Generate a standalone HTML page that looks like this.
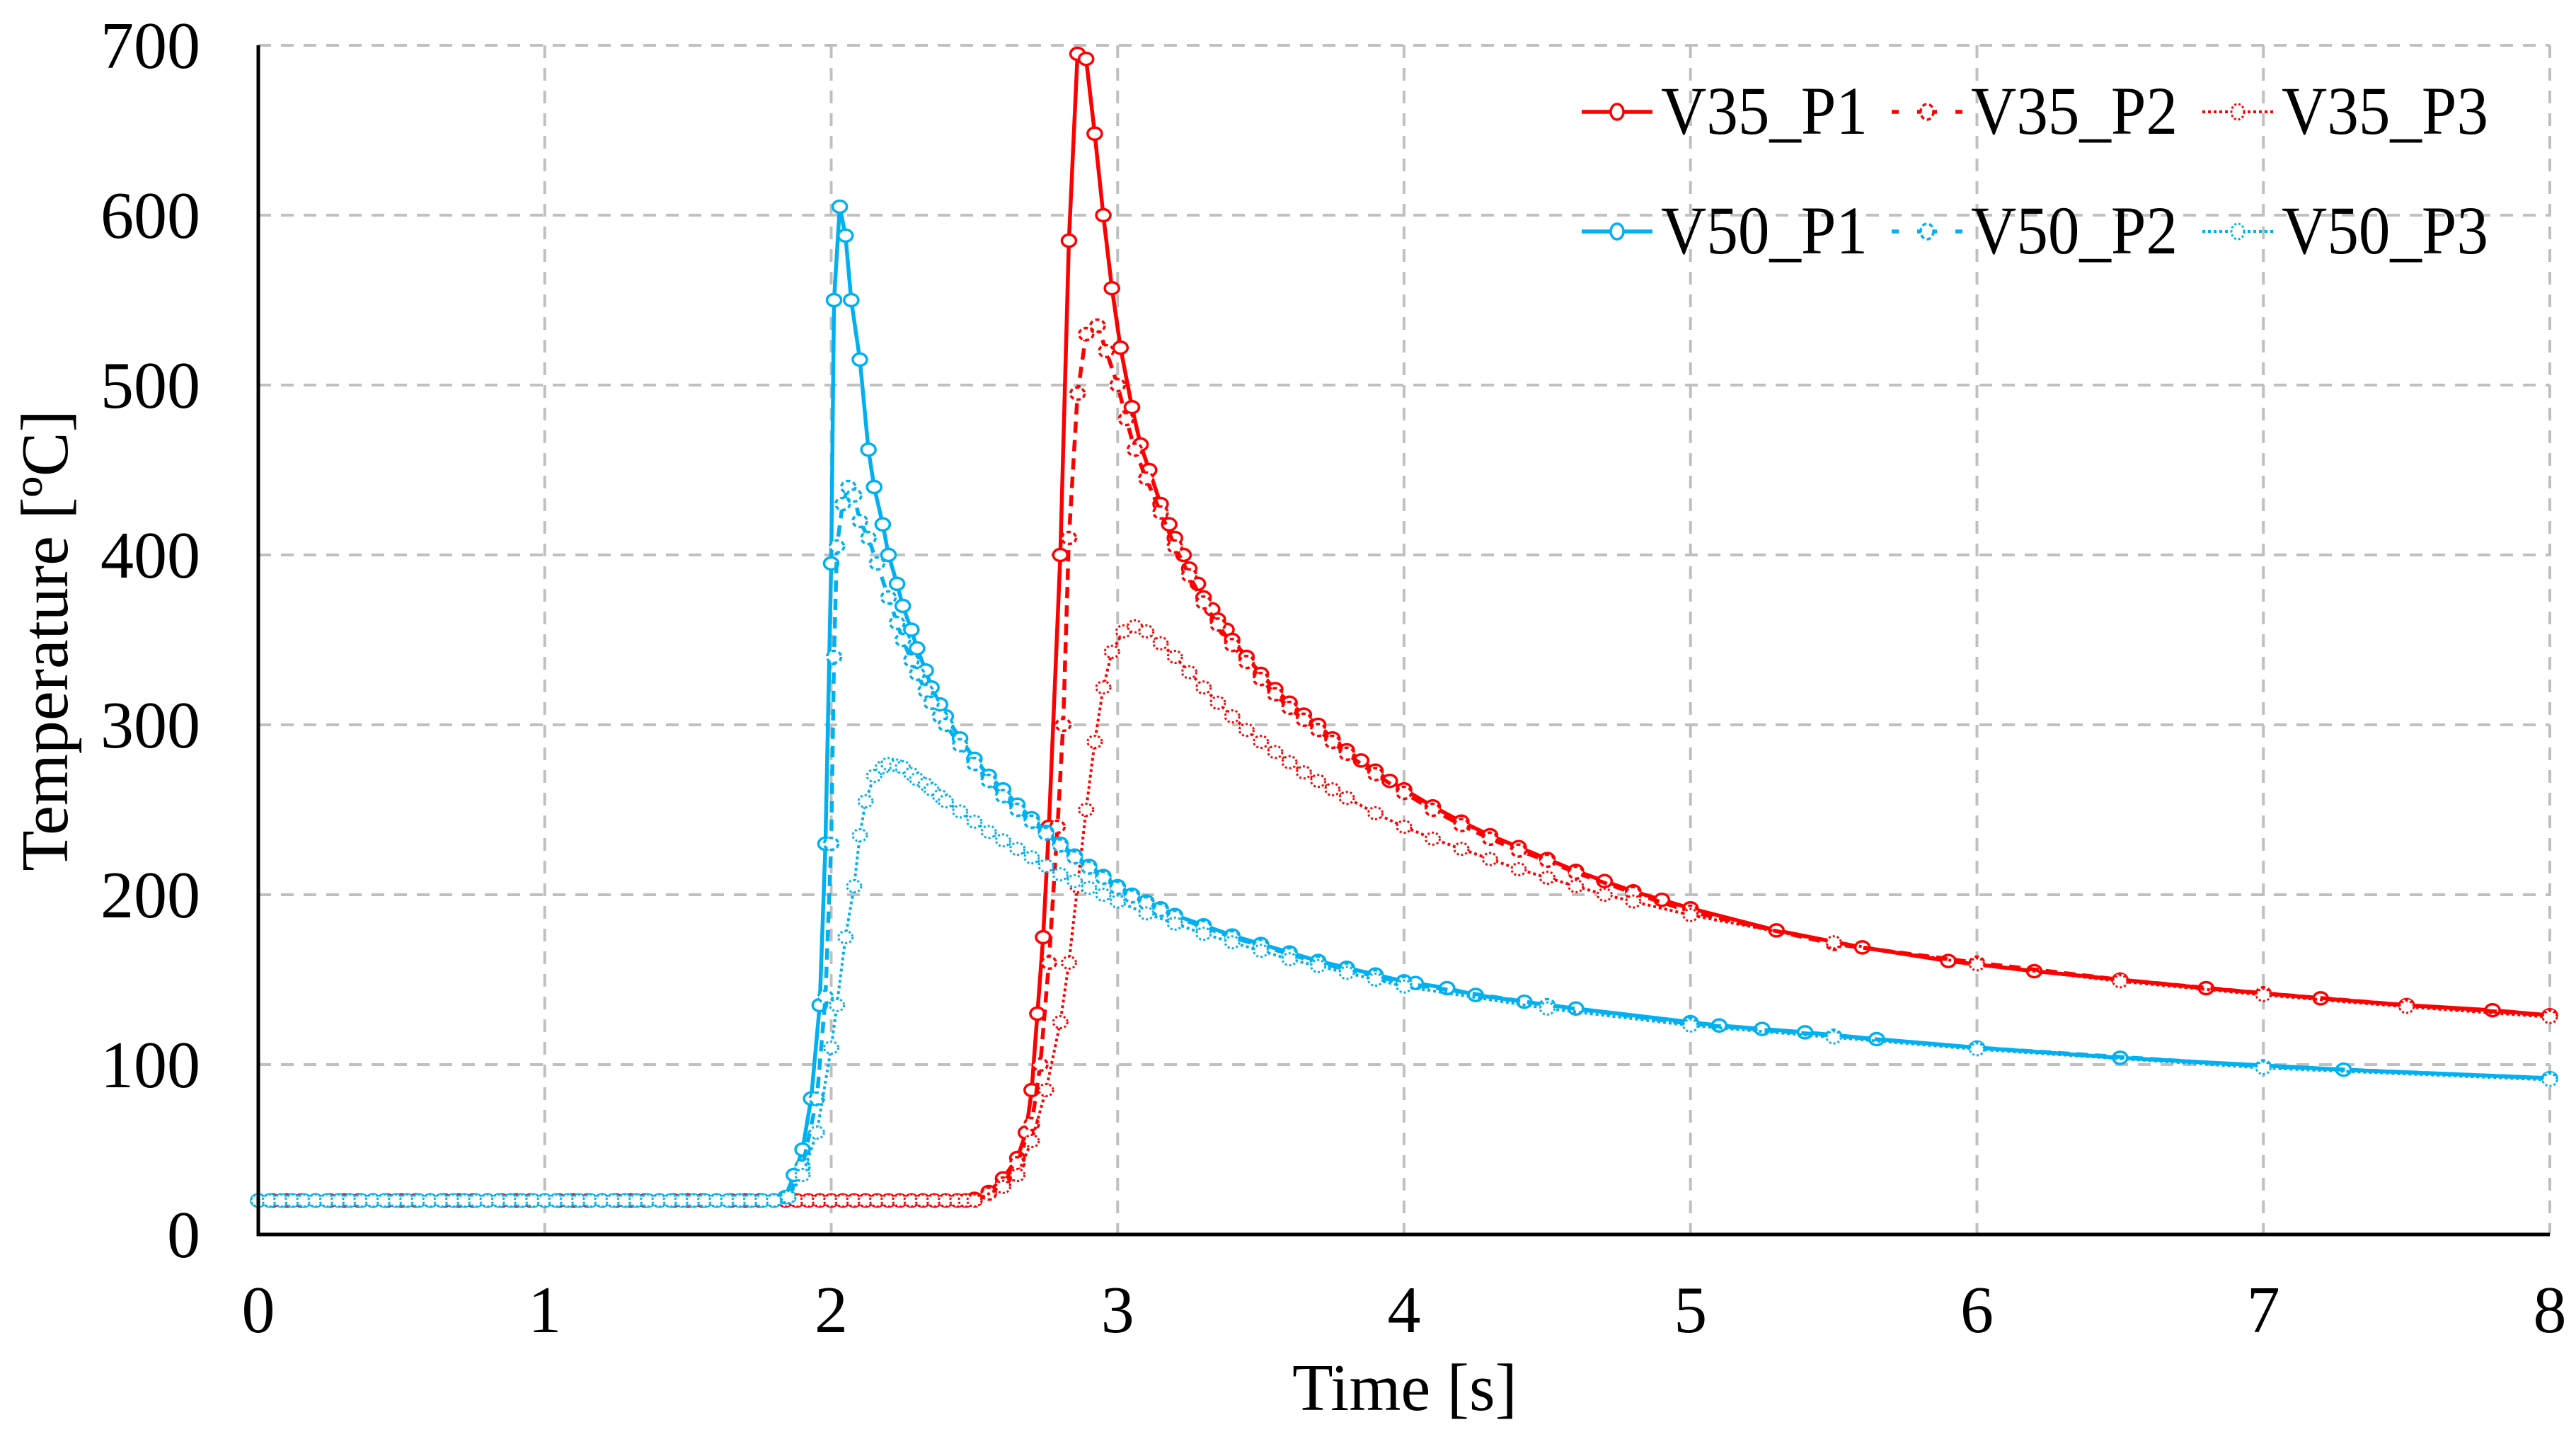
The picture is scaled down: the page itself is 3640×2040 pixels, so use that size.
<!DOCTYPE html>
<html><head><meta charset="utf-8">
<style>html,body{margin:0;padding:0;background:#fff}svg{display:block}text{font-family:"Liberation Serif",serif;fill:#000}</style>
</head><body>
<svg id="chart" width="3640" height="2040" viewBox="0 0 3640 2040" xmlns="http://www.w3.org/2000/svg">
<g id="grid"></g>
<g id="series"></g>
<g id="axes"></g>
<g id="legend"></g>
</svg>
<script>
const xTicks = [0,1,2,3,4,5,6,7,8];
const yTicks = [0,100,200,300,400,500,600,700];
const seriesNames = ["V35_P1","V35_P2","V35_P3","V50_P1","V50_P2","V50_P3"];

const v50FlatT = [0,0.04,0.08,0.12,0.16,0.2,0.24,0.28,0.32,0.36,0.4,0.44,0.48,0.52,0.56,0.6,0.64,0.68,0.72,0.76,0.8,0.84,0.88,0.92,0.96,1.0,1.04,1.08,1.12,1.16,1.2,1.24,1.28,1.32,1.36,1.4,1.44,1.48,1.52,1.56,1.6,1.64,1.68,1.72,1.76,1.8];
const v50FlatV = [20,20,20,20,20,20,20,20,20,20,20,20,20,20,20,20,20,20,20,20,20,20,20,20,20,20,20,20,20,20,20,20,20,20,20,20,20,20,20,20,20,20,20,20,20,20];
const v35FlatT = [0,0.05,0.1,0.15,0.2,0.25,0.3,0.35,0.4,0.45,0.5,0.55,0.6,0.65,0.7,0.75,0.8,0.85,0.9,0.95,1.0,1.05,1.1,1.15,1.2,1.25,1.3,1.35,1.4,1.45,1.5,1.55,1.6,1.65,1.7,1.75,1.8,1.84,1.88,1.92,1.96,2.0,2.04,2.08,2.12,2.16,2.2,2.24,2.28,2.32,2.36,2.4,2.44,2.47];
const v35FlatV = [20,20,20,20,20,20,20,20,20,20,20,20,20,20,20,20,20,20,20,20,20,20,20,20,20,20,20,20,20,20,20,20,20,20,20,20,20,20,20,20,20,20,20,20,20,20,20,20,20,20,20,20,20,20];

const v50p1T = [1.84,1.87,1.9,1.93,1.96,1.98,2.0,2.01,2.03,2.05,2.07,2.1,2.13,2.15,2.18,2.2,2.23,2.25,2.28,2.3,2.33,2.35,2.38,2.4,2.45,2.5,2.55,2.6,2.65,2.7,2.75,2.8,2.85,2.9,2.95,3.0,3.05,3.1,3.15,3.2,3.3,3.4,3.5,3.6,3.7,3.8,3.9,4.0,4.04,4.15,4.25,4.42,4.6,5.0,5.1,5.25,5.4,5.65,6.0,6.5,7.28,8.0];
const v50p1V = [22,35,50,80,135,230,395,550,605,588,550,515,462,440,418,400,383,370,356,345,332,322,312,305,292,280,270,262,253,245,237,230,223,217,211,205,200,196,192,188,182,176,171,166,161,157,153,149,148,145,141,137,133,125,123,121,119,115,110,104,97,92];
const v50p2T = [1.85,1.9,1.95,1.98,2.0,2.01,2.02,2.04,2.06,2.08,2.1,2.13,2.16,2.2,2.23,2.25,2.28,2.3,2.33,2.35,2.38,2.4,2.45,2.5,2.55,2.6,2.65,2.7,2.75,2.8,2.85,2.9,2.95,3.0,3.05,3.1,3.15,3.2,3.3,3.4,3.5,3.6,3.7,3.8,3.9,4.0,4.5,5.0,5.5,6.0,7.0,8.0];
const v50p2V = [22,40,80,140,230,340,405,430,440,435,420,410,395,375,360,350,338,330,320,313,305,300,288,277,267,258,250,243,236,229,222,216,210,204,199,195,191,187,181,175,170,165,160,156,152,148,135,124,117,110,99,92];
const v50p3T = [1.85,1.9,1.95,2.0,2.02,2.05,2.08,2.1,2.12,2.15,2.18,2.2,2.23,2.25,2.28,2.3,2.33,2.35,2.38,2.4,2.45,2.5,2.55,2.6,2.65,2.7,2.75,2.8,2.85,2.9,2.95,3.0,3.1,3.2,3.3,3.4,3.5,3.6,3.7,3.8,3.9,4.0,4.5,5.0,5.5,6.0,7.0,8.0];
const v50p3V = [22,35,60,110,135,175,205,235,255,270,275,277,276,275,271,268,265,262,258,255,249,243,237,232,227,222,217,212,208,204,200,196,189,183,177,172,167,162,158,154,150,146,133,123,116,109,98,91];

const v35p1T = [2.5,2.55,2.6,2.65,2.68,2.7,2.72,2.74,2.76,2.8,2.83,2.86,2.89,2.92,2.95,2.98,3.01,3.05,3.08,3.11,3.15,3.18,3.2,3.23,3.25,3.28,3.3,3.33,3.35,3.38,3.4,3.45,3.5,3.55,3.6,3.65,3.7,3.75,3.8,3.85,3.9,3.95,4.0,4.1,4.2,4.3,4.4,4.5,4.6,4.7,4.8,4.9,5.0,5.3,5.6,5.9,6.2,6.5,6.8,7.2,7.5,7.8,8.0];
const v35p1V = [21,25,33,45,60,85,130,175,240,400,585,695,692,648,600,557,522,487,465,450,430,418,410,400,392,383,375,368,362,356,350,340,330,321,313,306,300,292,285,279,273,267,262,252,243,235,228,221,214,208,202,197,192,179,169,161,155,150,145,139,135,132,129];
const v35p2T = [2.5,2.55,2.6,2.65,2.7,2.73,2.76,2.79,2.81,2.83,2.86,2.89,2.93,2.96,3.0,3.03,3.06,3.1,3.15,3.2,3.25,3.3,3.35,3.4,3.45,3.5,3.55,3.6,3.65,3.7,3.75,3.8,3.9,4.0,4.1,4.2,4.3,4.4,4.5,4.6,4.8,5.0,5.5,6.0,6.5,7.0,7.5,8.0];
const v35p2V = [20,24,30,42,65,100,160,240,300,410,495,530,535,520,500,480,462,445,425,405,388,372,359,347,337,327,318,310,303,297,290,283,271,260,250,241,233,226,220,213,201,190,171,160,150,142,135,129];
const v35p3T = [2.5,2.6,2.65,2.7,2.75,2.8,2.83,2.86,2.89,2.92,2.95,2.98,3.02,3.06,3.1,3.15,3.2,3.25,3.3,3.35,3.4,3.45,3.5,3.55,3.6,3.65,3.7,3.75,3.8,3.9,4.0,4.1,4.2,4.3,4.4,4.5,4.6,4.7,4.8,5.0,5.5,6.0,6.5,7.0,7.5,8.0];
const v35p3V = [20,28,35,55,85,125,160,205,250,290,322,343,355,358,355,348,340,331,322,313,305,297,290,284,278,272,267,262,257,248,240,233,227,221,215,210,205,200,196,188,172,159,149,141,134,128];

const NS = "http://www.w3.org/2000/svg";
const X0 = 365, X1 = 3603, Y0 = 1744, Y1 = 64;
const xs = t => X0 + (t - 0) / 8 * (X1 - X0);
const ys = v => Y0 - v / 700 * (Y0 - Y1);
function mk(tag, attrs, parent){ const e = document.createElementNS(NS, tag); for (const k in attrs) e.setAttribute(k, attrs[k]); parent.appendChild(e); return e; }

const grid = document.getElementById('grid');
xTicks.forEach(t => {
  if (t === 0) return;
  const l = mk('line', {x1: xs(t), x2: xs(t), y1: Y1, y2: Y0, stroke: '#c0c0c0', 'stroke-width': 4, 'stroke-dasharray': '18 14'}, grid);
  
  
});
yTicks.forEach(v => {
  if (v === 0) return;
  const l = mk('line', {x1: X0, x2: X1, y1: ys(v), y2: ys(v), stroke: '#c0c0c0', 'stroke-width': 4, 'stroke-dasharray': '18 14'}, grid);
  
  
});

const styles = {
  solid: {dash: null, w: 5.5, mdash: null, mw: 3.5},
  dash: {dash: '16 10', w: 5.5, mdash: '6 4', mw: 3.5},
  dot: {dash: '4 4', w: 4, mdash: '3 3', mw: 3}
};
const RED = '#ff0000', BLUE = '#00b0f0';
const seriesDefs = [
  {name: seriesNames[0], t: v35FlatT.concat(v35p1T), v: v35FlatV.concat(v35p1V), c: RED, s: 'solid'},
  {name: seriesNames[1], t: v35FlatT.concat(v35p2T), v: v35FlatV.concat(v35p2V), c: RED, s: 'dash'},
  {name: seriesNames[2], t: v35FlatT.concat(v35p3T), v: v35FlatV.concat(v35p3V), c: RED, s: 'dot'},
  {name: seriesNames[3], t: v50FlatT.concat(v50p1T), v: v50FlatV.concat(v50p1V), c: BLUE, s: 'solid'},
  {name: seriesNames[4], t: v50FlatT.concat(v50p2T), v: v50FlatV.concat(v50p2V), c: BLUE, s: 'dash'},
  {name: seriesNames[5], t: v50FlatT.concat(v50p3T), v: v50FlatV.concat(v50p3V), c: BLUE, s: 'dot'}
];
const sl = document.getElementById('series');
seriesDefs.forEach(sd => {
  const st = styles[sd.s];
  const g = mk('g', {}, sl);
  
  
  const d = sd.t.map((t, i) => (i ? 'L' : 'M') + xs(t).toFixed(1) + ',' + ys(sd.v[i]).toFixed(1)).join('');
  const p = mk('path', {d: d, fill: 'none', stroke: sd.c, 'stroke-width': st.w, 'stroke-linejoin': 'round'}, g);
  if (st.dash) p.setAttribute('stroke-dasharray', st.dash);
  
  
  sd.t.forEach((t, i) => {
    const c = mk('ellipse', {cx: xs(t), cy: ys(sd.v[i]), rx: 10, ry: 8.5, fill: '#fff', stroke: sd.c, 'stroke-width': st.mw}, g);
    if (st.mdash) c.setAttribute('stroke-dasharray', st.mdash);
    
    
  });
});

const ax = document.getElementById('axes');
const ya = mk('line', {x1: X0, x2: X0, y1: Y1, y2: Y0 + 2.5, stroke: '#000', 'stroke-width': 5}, ax);


const xa = mk('line', {x1: X0 - 2.5, x2: X1, y1: Y0, y2: Y0, stroke: '#000', 'stroke-width': 5}, ax);


xTicks.forEach(t => {
  const tx = mk('text', {x: xs(t), y: 1882, 'text-anchor': 'middle', 'font-size': 94}, ax);
  tx.textContent = String(t);
  
  
});
yTicks.forEach(v => {
  const tx = mk('text', {x: 283, y: ys(v) + 32, 'text-anchor': 'end', 'font-size': 94}, ax);
  tx.textContent = String(v);
  
  
});
const xt = mk('text', {x: 1985, y: 1992, 'text-anchor': 'middle', 'font-size': 94}, ax);
xt.textContent = 'Time [s]';


const yt = mk('text', {x: 0, y: 0, 'text-anchor': 'middle', 'font-size': 94, transform: 'translate(95,905) rotate(-90)'}, ax);
yt.textContent = 'Temperature [ºC]';



const lg = document.getElementById('legend');
const legendX = [2235, 2673, 3112];
const legendRows = [{y: 158, base: 189, c: RED, names: [seriesNames[0], seriesNames[1], seriesNames[2]]},
                    {y: 327, base: 358, c: BLUE, names: [seriesNames[3], seriesNames[4], seriesNames[5]]}];
const sKeys = ['solid', 'dash', 'dot'];
legendRows.forEach(r => {
  r.names.forEach((n, i) => {
    const st = styles[sKeys[i]];
    const g = mk('g', {}, lg);
    
    
    const lx = legendX[i];
    const l = mk('line', {x1: lx, x2: lx + 100, y1: r.y, y2: r.y, stroke: r.c, 'stroke-width': st.w}, g);
    if (st.dash) l.setAttribute('stroke-dasharray', sKeys[i] === 'dash' ? '10 26 28 26 10' : '4 4');
    
    
    const m = mk('ellipse', {cx: lx + 50, cy: r.y, rx: 9, ry: 11, fill: '#fff', stroke: r.c, 'stroke-width': st.mw}, g);
    if (st.mdash) m.setAttribute('stroke-dasharray', st.mdash);
    
    
    const tx = mk('text', {x: lx + 112, y: r.base, 'font-size': 96, textLength: 292, lengthAdjust: 'spacingAndGlyphs'}, g);
    tx.textContent = n;
    
    
  });
});
</script>
</body></html>
